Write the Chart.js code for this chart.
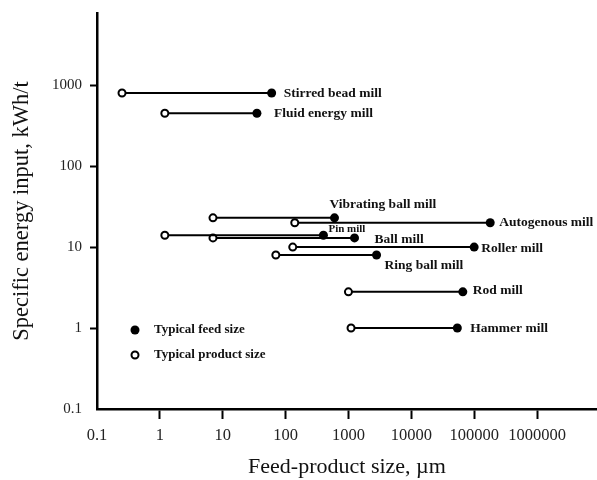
<!DOCTYPE html>
<html>
<head>
<meta charset="utf-8">
<script src="https://cdn.jsdelivr.net/npm/chart.js@4"></script>
<style>
  html, body { margin: 0; padding: 0; background: #fff; }
  canvas { display: block; }
</style>
</head>
<body>
<canvas id="chart" width="597" height="480"></canvas>
<script>
// Size-reduction equipment: typical product and feed sizes with specific energy input
const mills = ['Stirred bead mill', 'Fluid energy mill', 'Vibrating ball mill', 'Autogenous mill', 'Pin mill',
               'Ball mill', 'Roller mill', 'Ring ball mill', 'Rod mill', 'Hammer mill'];
const energyInput = [800, 450, 23, 20, 14, 13, 10, 8, 2.8, 1];                        // kWh/t
const productSize = [0.25, 1.2, 7, 140, 1.2, 7, 130, 70, 1000, 1100];                 // µm
const feedSize = [60, 35, 600, 180000, 400, 1250, 100000, 2800, 66000, 54000];        // µm
const xTickValues = [0.1, 1, 10, 100, 1000, 10000, 100000, 1000000];
const yTickValues = [0.1, 1, 10, 100, 1000];
const legendLabels = ['Typical feed size', 'Typical product size'];

// label placement next to each feed-size marker: [dx, dy, font size]
const labelLayout = [[12, 0, 13.5], [17, 0, 13.5], [-5, -13, 13.5], [9, 0, 13.5], [5, -6, 11],
                     [20, 2, 13.5], [7, 1, 13.5], [8, 11, 13.5], [10, -1, 13.5], [13, 0, 13.5]];

const SERIF = '"Liberation Serif", "DejaVu Serif", serif';

const datasets = mills.map((name, i) => ({
  label: name,
  data: [{ x: productSize[i], y: energyInput[i] }, { x: feedSize[i], y: energyInput[i] }],
  showLine: true,
  borderColor: '#000',
  borderWidth: 2,
  pointRadius: [3.5, 4.5],
  pointBackgroundColor: ['#fff', '#000'],
  pointBorderColor: '#000',
  pointBorderWidth: [2, 0]
}));

const millLabels = {
  id: 'millLabels',
  afterDatasetsDraw(chart) {
    const { ctx, scales: { x, y } } = chart;
    ctx.save();
    ctx.fillStyle = '#111';
    ctx.textAlign = 'left';
    ctx.textBaseline = 'middle';
    mills.forEach((name, i) => {
      const [dx, dy, size] = labelLayout[i];
      ctx.font = 'bold ' + size + 'px ' + SERIF;
      ctx.fillText(name, x.getPixelForValue(feedSize[i]) + dx, y.getPixelForValue(energyInput[i]) + dy);
    });
    ctx.restore();
  }
};

const markerLegend = {
  id: 'markerLegend',
  afterDraw(chart) {
    const { ctx, chartArea: a } = chart;
    const mx = a.left + 38, tx = a.left + 57;
    const rows = [a.top + 317, a.top + 342];
    ctx.save();
    ctx.fillStyle = '#000';
    ctx.beginPath();
    ctx.arc(mx, rows[0], 4.5, 0, Math.PI * 2);
    ctx.fill();
    ctx.beginPath();
    ctx.arc(mx, rows[1], 3.5, 0, Math.PI * 2);
    ctx.fillStyle = '#fff';
    ctx.fill();
    ctx.lineWidth = 2;
    ctx.strokeStyle = '#000';
    ctx.stroke();
    ctx.fillStyle = '#111';
    ctx.font = 'bold 13px ' + SERIF;
    ctx.textBaseline = 'middle';
    legendLabels.forEach((t, i) => ctx.fillText(t, tx, rows[i]));
    ctx.restore();
  }
};

const whiteBg = {
  id: 'whiteBg',
  beforeDraw(chart) {
    const { ctx, width, height } = chart;
    ctx.save();
    ctx.fillStyle = '#fff';
    ctx.fillRect(0, 0, width, height);
    ctx.restore();
  }
};

const hideCornerTick = (ctx) => (ctx.tick && ctx.tick.value === 0.1) ? 'rgba(0,0,0,0)' : '#000';

new Chart(document.getElementById('chart'), {
  type: 'scatter',
  data: { datasets },
  options: {
    responsive: false,
    animation: false,
    devicePixelRatio: 1,
    layout: { autoPadding: false, padding: { top: 13, right: 0, bottom: 0, left: 0 } },
    plugins: { legend: { display: false }, tooltip: { enabled: false } },
    scales: {
      x: {
        type: 'logarithmic',
        min: 0.1,
        max: 9000000,
        afterBuildTicks(scale) { scale.ticks = xTickValues.map(v => ({ value: v })); },
        afterFit(scale) { scale.height = 71; scale.paddingLeft = 0; scale.paddingRight = 0; },
        border: { display: true, color: '#000', width: 2.5 },
        grid: { drawOnChartArea: false, drawTicks: true, tickLength: 10, tickWidth: 2, tickColor: hideCornerTick },
        ticks: {
          autoSkip: false, maxRotation: 0, padding: 7, color: '#222',
          font: { family: SERIF, size: 16.5 },
          callback: (v) => String(v)
        },
        title: {
          display: true, text: 'Feed-product size, µm', color: '#111',
          font: { family: SERIF, size: 22, lineHeight: 1.1 },
          padding: { top: 0, bottom: 1 }
        }
      },
      y: {
        type: 'logarithmic',
        min: 0.1,
        max: 7800,
        afterBuildTicks(scale) { scale.ticks = yTickValues.map(v => ({ value: v })); },
        afterFit(scale) { scale.width = 97; scale.paddingTop = 0; scale.paddingBottom = 0; },
        border: { display: true, color: '#000', width: 2.5 },
        grid: { drawOnChartArea: false, drawTicks: true, tickLength: 7, tickWidth: 2, tickColor: hideCornerTick },
        ticks: {
          autoSkip: false, padding: 8, color: '#222',
          font: { family: SERIF, size: 15 },
          callback: (v) => String(v)
        },
        title: {
          display: true, text: 'Specific energy input, kWh/t', color: '#111',
          font: { family: SERIF, size: 22.5, lineHeight: 1.1 },
          padding: { top: 10, bottom: 0 }
        }
      }
    }
  },
  plugins: [whiteBg, millLabels, markerLegend]
});
</script>
</body>
</html>
